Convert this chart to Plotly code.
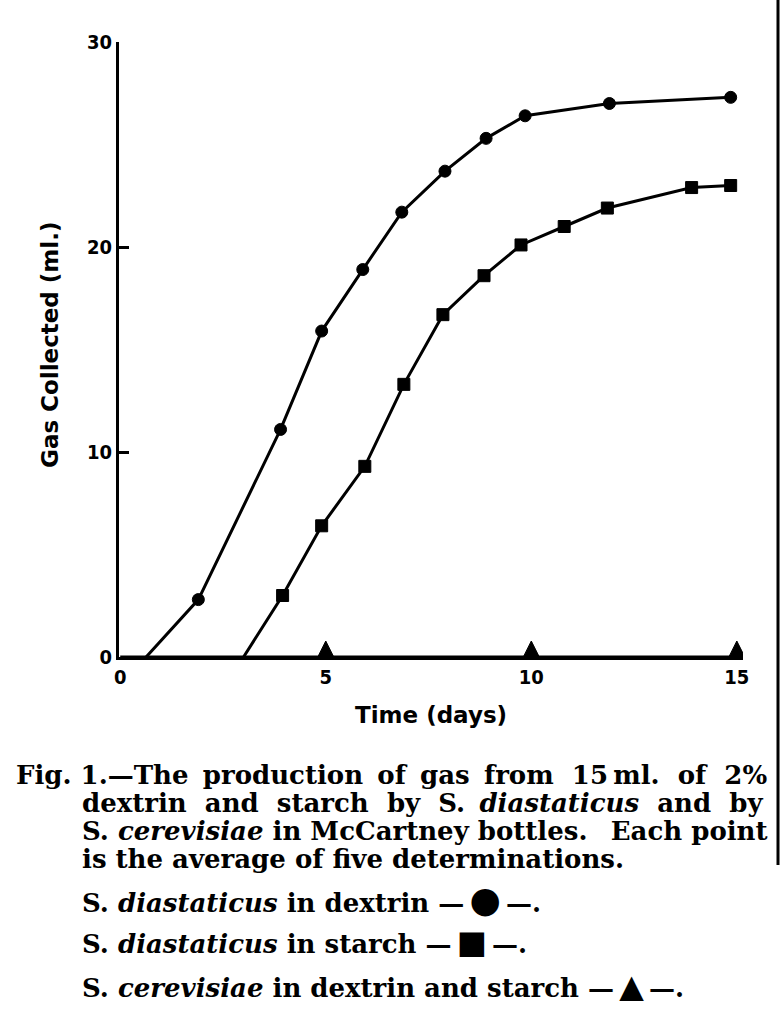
import plotly.graph_objects as go

# ---------------- data ----------------
# S. diastaticus in dextrin (circles)
dex_days = [1.9, 3.9, 4.9, 5.9, 6.85, 7.9, 8.9, 9.85, 11.9, 14.85]
dex_gas = [2.8, 11.1, 15.9, 18.9, 21.7, 23.7, 25.3, 26.4, 27.0, 27.3]
dex_onset_day = 0.63          # where the curve leaves the baseline

# S. diastaticus in starch (squares)
sta_days = [3.95, 4.9, 5.95, 6.9, 7.85, 8.85, 9.75, 10.8, 11.85, 13.9, 14.85]
sta_gas = [3.0, 6.4, 9.3, 13.3, 16.7, 18.6, 20.1, 21.0, 21.9, 22.9, 23.0]
sta_onset_day = 3.0

# S. cerevisiae in dextrin and starch (triangles) – no gas
cer_days = [5, 10, 15]
cer_gas = [0, 0, 0]
cer_line_days = [0, 15]
cer_line_gas = [0, 0]

x_ticks = [0, 5, 10, 15]
y_ticks = [0, 10, 20, 30]

# ---------------- layout geometry ----------------
W, H = 780, 1024
L, R, T, B = 119, 37, 42, 367
PW, PH = W - L - R, H - T - B


def px(xp):
    return (xp - L) / PW


def py(yp):
    return (H - B - yp) / PH


# triangles sit on the baseline (apex-anchored arrow symbol)
tri_size = 16
lift = tri_size / (PH / 30.0)

fig = go.Figure()

fig.add_trace(go.Scatter(
    x=cer_line_days, y=cer_line_gas, mode="lines",
    line=dict(color="black", width=3), hoverinfo="skip"))
fig.add_trace(go.Scatter(
    x=cer_days, y=[v + lift for v in cer_gas], mode="markers",
    marker=dict(symbol="arrow-up", size=tri_size, color="black", opacity=1,
                line=dict(width=1, color="black"))))

fig.add_trace(go.Scatter(
    x=[dex_onset_day] + dex_days, y=[0] + dex_gas, mode="lines+markers",
    line=dict(color="black", width=3),
    marker=dict(symbol="circle", color="black", opacity=1,
                line=dict(width=1, color="black"),
                size=[0] + [12] * len(dex_days))))

fig.add_trace(go.Scatter(
    x=[sta_onset_day] + sta_days, y=[0] + sta_gas, mode="lines+markers",
    line=dict(color="black", width=3),
    marker=dict(symbol="square", color="black", opacity=1,
                line=dict(width=1, color="black"),
                size=[0] + [12] * len(sta_days))))

tick_font = dict(family="DejaVu Sans Condensed, Liberation Sans Narrow, DejaVu Sans",
                 size=20, color="black", weight="bold")

fig.update_layout(
    width=W, height=H,
    margin=dict(l=L, r=R, t=T, b=B, pad=0),
    paper_bgcolor="white", plot_bgcolor="white",
    showlegend=False,
    xaxis=dict(range=[-0.03, 15.15], tickvals=x_ticks, ticktext=[str(v) for v in x_ticks],
               showline=True, linewidth=3, linecolor="black", ticks="",
               showgrid=False, zeroline=False, tickfont=tick_font),
    yaxis=dict(range=[0, 30], tickvals=y_ticks, ticktext=[str(v) for v in y_ticks],
               showline=True, linewidth=3, linecolor="black", ticks="inside",
               ticklen=10, tickwidth=3, tickcolor="black",
               showgrid=False, zeroline=False, tickfont=tick_font),
)

title_font = dict(family="DejaVu Sans", size=23, color="black", weight="bold")
annotations = [
    dict(text="Gas Collected (ml.)", x=px(50), y=py(345), textangle=-90,
         xanchor="center", yanchor="middle", font=title_font),
    dict(text="Time (days)", x=px(431), y=py(715),
         xanchor="center", yanchor="middle", font=title_font),
]

NB = "\u00a0"   # extra word space for justified lines
TS = "\u2009"   # thin extra space
cap_font = dict(family="DejaVu Serif", size=26, color="black", weight="bold")
caption = [
    ("Fig. 1.—The" + TS + " production" + TS + " of" + TS + " gas" + TS + " from" + NB
     + " 15" + TS + "ml." + NB + " of" + NB + " 2%", 14, 775),
    ("dextrin" + NB + " and" + NB + " starch" + NB + " by" + NB + " S." + TS + " <i>diastaticus</i>"
     + NB + " and" + NB + " by", 80, 803),
    ("S. <i>cerevisiae</i> in McCartney bottles." + NB + TS + " Each point", 80, 831),
    ("is the average of five determinations.", 80, 859),
    ("S. <i>diastaticus</i> in dextrin —" + TS + "<span style='font-size:36px'>●</span>"
     + TS + "—.", 80, 899),
    ("S. <i>diastaticus</i> in starch —" + TS + "<span style='font-size:32px'>■</span>"
     + TS + "—.", 80, 942),
    ("S. <i>cerevisiae</i> in dextrin and starch —" + TS + "<span style='font-size:32px'>▲</span>"
     + TS + "—.", 80, 986),
]
for txt, xp, yp in caption:
    annotations.append(dict(text=txt, x=px(xp), y=py(yp), xanchor="left",
                            yanchor="middle", font=cap_font))

for a in annotations:
    a.update(xref="paper", yref="paper", showarrow=False)

fig.update_layout(annotations=annotations)

fig.add_shape(type="line", xref="paper", yref="paper",
              x0=px(778), x1=px(778), y0=py(0), y1=py(865),
              line=dict(color="black", width=3))

fig.write_html(
    "out.html",
    config=dict(displayModeBar=False),
    post_script="document.body.style.margin='0';document.body.style.overflow='hidden';",
)
